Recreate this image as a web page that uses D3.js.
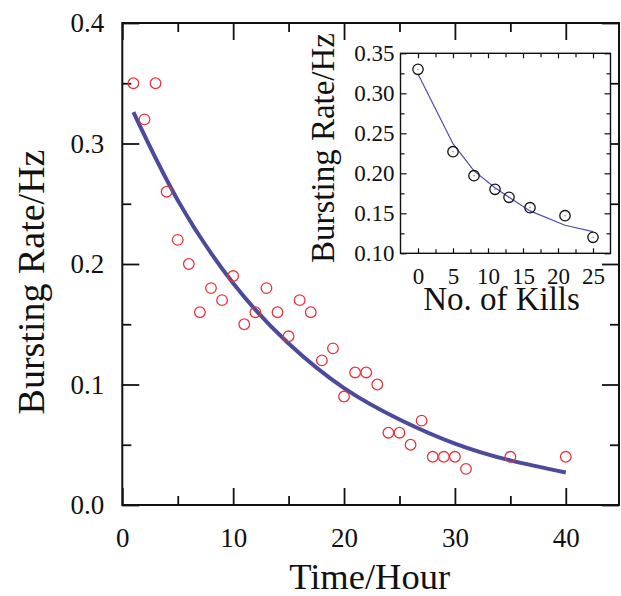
<!DOCTYPE html>
<html><head><meta charset="utf-8">
<script src="https://cdn.jsdelivr.net/npm/d3@7"></script>
<style>body{margin:0;background:#fff}svg{display:block}</style>
</head><body>
<svg id="c" width="621" height="596"></svg>
<script>
// Main data
const hours = [1,2,3,4,5,6,7,8,9,10,11,12,13,14,15,16,17,18,19,20,21,22,23,24,25,26,27,28,29,30,31,35,40];
const rates = [0.35,0.32,0.35,0.26,0.22,0.20,0.16,0.18,0.17,0.19,0.15,0.16,0.18,0.16,0.14,0.17,0.16,0.12,0.13,0.09,0.11,0.11,0.10,0.06,0.06,0.05,0.07,0.04,0.04,0.04,0.03,0.04,0.04];
const fitHours = [1,5,10,15,20,25,30,35,40];
const fitRates = [0.326,0.253,0.184,0.134,0.097,0.071,0.051,0.037,0.027];
const xTicksMajor = [0,10,20,30,40];
const xTicksMinor = [5,15,25,35];
const yTicksMajor = [0,0.1,0.2,0.3,0.4];
const yTicksMinor = [0.05,0.15,0.25,0.35];
// Inset data
const kills = [0,5,8,11,13,16,21,25];
const killRates = [0.33,0.227,0.197,0.18,0.17,0.157,0.147,0.12];
const killFit = [0.324,0.237,0.203,0.182,0.170,0.153,0.135,0.127];
const insetXTicks = [0,5,10,15,20,25];
const insetXMinor = [2.5,7.5,12.5,17.5,22.5];
const insetYTicks = [0.10,0.15,0.20,0.25,0.30,0.35];
const insetYMinor = [0.125,0.175,0.225,0.275,0.325];

const svg = d3.select("#c");
const FONT = "'Liberation Serif','Times New Roman',serif";

// Main scales
const x = d3.scaleLinear().domain([0,44.8]).range([122.3,619]);
const y = d3.scaleLinear().domain([0,0.4]).range([505,23]);

function styleAxis(g){ g.attr("font-family",FONT); g.select(".domain").remove(); g.selectAll(".tick line").attr("stroke","#111").attr("stroke-width",1.8); g.selectAll("text").attr("font-family",FONT).attr("fill","#111"); }

const main = svg.append("g");
main.append("g").attr("transform",`translate(${x.range()[0]},0)`)
  .call(d3.axisLeft(y).tickValues(yTicksMajor).tickSize(-17).tickSizeOuter(0).tickPadding(18).tickFormat(d3.format(".1f")))
  .call(styleAxis).selectAll("text").attr("font-size",27);
main.append("g").attr("transform",`translate(${x.range()[0]},0)`)
  .call(d3.axisLeft(y).tickValues(yTicksMinor).tickSize(-9).tickSizeOuter(0).tickFormat("")).call(styleAxis);
main.append("g").attr("transform",`translate(${x.range()[1]},0)`)
  .call(d3.axisRight(y).tickValues(yTicksMajor).tickSize(-17).tickSizeOuter(0).tickFormat("")).call(styleAxis);
main.append("g").attr("transform",`translate(${x.range()[1]},0)`)
  .call(d3.axisRight(y).tickValues(yTicksMinor).tickSize(-9).tickSizeOuter(0).tickFormat("")).call(styleAxis);
main.append("g").attr("transform",`translate(0,${y.range()[0]})`)
  .call(d3.axisBottom(x).tickValues(xTicksMajor).tickSize(-17).tickSizeOuter(0).tickPadding(23).tickFormat(d3.format("d")))
  .call(styleAxis).selectAll("text").attr("font-size",27);
main.append("g").attr("transform",`translate(0,${y.range()[0]})`)
  .call(d3.axisBottom(x).tickValues(xTicksMinor).tickSize(-9).tickSizeOuter(0).tickFormat("")).call(styleAxis);
main.append("g").attr("transform",`translate(0,${y.range()[1]})`)
  .call(d3.axisTop(x).tickValues(xTicksMajor).tickSize(-17).tickSizeOuter(0).tickFormat("")).call(styleAxis);
main.append("g").attr("transform",`translate(0,${y.range()[1]})`)
  .call(d3.axisTop(x).tickValues(xTicksMinor).tickSize(-9).tickSizeOuter(0).tickFormat("")).call(styleAxis);

main.append("rect").attr("x",x.range()[0]).attr("y",y.range()[1])
  .attr("width",x.range()[1]-x.range()[0]).attr("height",y.range()[0]-y.range()[1])
  .attr("fill","none").attr("stroke","#111").attr("stroke-width",2);

// fit curve
main.append("path").datum(fitHours.map((h,i)=>[h,fitRates[i]]))
  .attr("d",d3.line().x(d=>x(d[0])).y(d=>y(d[1])).curve(d3.curveNatural))
  .attr("fill","none").attr("stroke","#4b4a9b").attr("stroke-width",4);

main.append("g").selectAll("circle").data(hours.map((h,i)=>[h,rates[i]])).join("circle")
  .attr("cx",d=>x(d[0])).attr("cy",d=>y(d[1])).attr("r",5.3)
  .attr("fill","none").attr("stroke","#e8343c").attr("stroke-width",1.3);

// axis titles
svg.append("text").attr("x",(x.range()[0]+x.range()[1])/2-1).attr("y",589).attr("text-anchor","middle")
  .attr("font-family",FONT).attr("font-size",36.5).attr("fill","#111").text("Time/Hour");
svg.append("text").attr("transform",`translate(44,${282}) rotate(-90)`).attr("text-anchor","middle")
  .attr("font-family",FONT).attr("font-size",38).attr("fill","#111").text("Bursting Rate/Hz");

// Inset
const ix = d3.scaleLinear().domain([-2.5,27.5]).range([400.5,610.5]);
const iy = d3.scaleLinear().domain([0.10,0.35]).range([253.3,53.3]);
const inset = svg.append("g");
inset.append("rect").attr("x",ix.range()[0]).attr("y",iy.range()[1])
  .attr("width",ix.range()[1]-ix.range()[0]).attr("height",iy.range()[0]-iy.range()[1])
  .attr("fill","#fff").attr("stroke","none");
function styleInset(g){ g.attr("font-family",FONT); g.select(".domain").remove(); g.selectAll(".tick line").attr("stroke","#111").attr("stroke-width",1.2); g.selectAll("text").attr("font-family",FONT).attr("fill","#111").attr("font-size",23); }
inset.append("g").attr("transform",`translate(${ix.range()[0]},0)`)
  .call(d3.axisLeft(iy).tickValues(insetYTicks).tickSize(-6).tickSizeOuter(0).tickPadding(6).tickFormat(d3.format(".2f"))).call(styleInset);
inset.append("g").attr("transform",`translate(${ix.range()[0]},0)`)
  .call(d3.axisLeft(iy).tickValues(insetYMinor).tickSize(-4).tickSizeOuter(0).tickFormat("")).call(styleInset);
inset.append("g").attr("transform",`translate(${ix.range()[1]},0)`)
  .call(d3.axisRight(iy).tickValues(insetYTicks).tickSize(-6).tickSizeOuter(0).tickFormat("")).call(styleInset);
inset.append("g").attr("transform",`translate(${ix.range()[1]},0)`)
  .call(d3.axisRight(iy).tickValues(insetYMinor).tickSize(-4).tickSizeOuter(0).tickFormat("")).call(styleInset);
inset.append("g").attr("transform",`translate(0,${iy.range()[0]})`)
  .call(d3.axisBottom(ix).tickValues(insetXTicks).tickSize(-5).tickSizeOuter(0).tickPadding(14).tickFormat(d3.format("d"))).call(styleInset);
inset.append("g").attr("transform",`translate(0,${iy.range()[0]})`)
  .call(d3.axisBottom(ix).tickValues(insetXMinor).tickSize(-4).tickSizeOuter(0).tickFormat("")).call(styleInset);
inset.append("g").attr("transform",`translate(0,${iy.range()[1]})`)
  .call(d3.axisTop(ix).tickValues(insetXTicks).tickSize(-5).tickSizeOuter(0).tickFormat("")).call(styleInset);
inset.append("g").attr("transform",`translate(0,${iy.range()[1]})`)
  .call(d3.axisTop(ix).tickValues(insetXMinor).tickSize(-4).tickSizeOuter(0).tickFormat("")).call(styleInset);
inset.append("rect").attr("x",ix.range()[0]).attr("y",iy.range()[1])
  .attr("width",ix.range()[1]-ix.range()[0]).attr("height",iy.range()[0]-iy.range()[1])
  .attr("fill","none").attr("stroke","#111").attr("stroke-width",1.4);
inset.append("path").datum(kills.map((k,i)=>[k,killFit[i]]))
  .attr("d",d3.line().x(d=>ix(d[0])).y(d=>iy(d[1])))
  .attr("fill","none").attr("stroke","#4d4db0").attr("stroke-width",1.2);
const pts = inset.append("g").selectAll("g").data(kills.map((k,i)=>[k,killRates[i]])).join("g")
  .attr("transform",d=>`translate(${ix(d[0])},${iy(d[1])})`);
pts.append("circle").attr("r",5.2).attr("fill","none").attr("stroke","#111").attr("stroke-width",1.3);
pts.append("circle").attr("r",0.6).attr("fill","#555");
svg.append("text").attr("x",(ix.range()[0]+ix.range()[1])/2-4).attr("y",310).attr("text-anchor","middle")
  .attr("font-family",FONT).attr("font-size",33).attr("fill","#111").text("No. of Kills");
svg.append("text").attr("transform",`translate(334,148) rotate(-90)`).attr("text-anchor","middle")
  .attr("font-family",FONT).attr("font-size",33).attr("fill","#111").text("Bursting Rate/Hz");
</script>
</body></html>
